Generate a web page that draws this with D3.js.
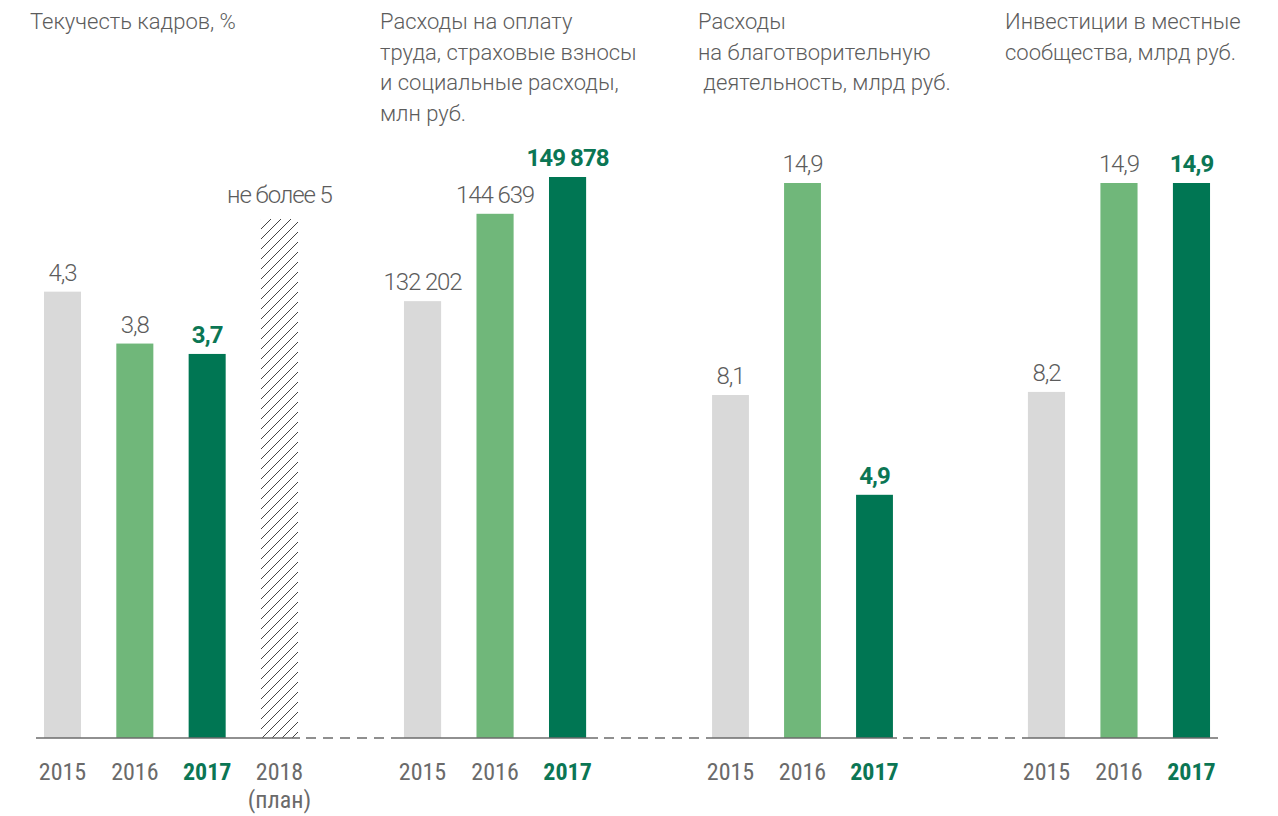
<!DOCTYPE html>
<html>
<head>
<meta charset="utf-8">
<script src="https://cdn.jsdelivr.net/npm/d3@7/dist/d3.min.js"></script>
<style>
  html, body { margin: 0; padding: 0; background: #fff; }
  svg { display: block; }
  .title { font-family: Roboto, "Open Sans", sans-serif; font-weight: 300; font-size: 22px; fill: #5c5c5c; white-space: pre; }
  .val { font-family: Roboto, sans-serif; font-weight: 300; font-size: 24px; fill: #5c5c5c; letter-spacing: -1.1px; }
  .val.hl { font-weight: 700; fill: #0b7654; letter-spacing: -0.9px; }
  .year { font-family: "Liberation Sans Narrow", "Roboto Condensed", "DejaVu Sans Condensed", sans-serif; font-size: 24px; fill: #6a6a6a; }
  .year.hl { font-weight: 700; fill: #0b7654; }
</style>
</head>
<body>
<svg id="chart" width="1278" height="816"></svg>
<script>
// ---------------- data ----------------
const years = ["2015", "2016", "2017"];
const turnoverYears = ["2015", "2016", "2017", "2018"];
const turnoverValues = [4.3, 3.8, 3.7, 5];
const turnoverPlanLabel = "не более 5";
const planNote = "(план)";
const laborCostValues = [132202, 144639, 149878];
const charityValues = [8.1, 14.9, 4.9];
const investmentValues = [8.2, 14.9, 14.9];
const highlightYear = "2017";
const planYear = "2018";

const titleTurnover = ["Текучесть кадров, %"];
const titleLabor = ["Расходы на оплату", "труда, страховые взносы", "и социальные расходы,", "млн руб."];
const titleCharity = ["Расходы", "на благотворительную", " деятельность, млрд руб."];
const titleInvest = ["Инвестиции в местные", "сообщества, млрд руб."];

// ---------------- formatting ----------------
const ru = d3.formatLocale({ decimal: ",", thousands: " ", grouping: [3], currency: ["", " руб."] });
const fmtDec = ru.format(".1f");
const fmtInt = ru.format(",d");

// ---------------- layout ----------------
const svg = d3.select("#chart");
const baseY = 738;
const colors = { "2015": "#d9d9d9", "2016": "#70b77a", "2017": "#007653" };

// hatch pattern for plan bar
const defs = svg.append("defs");
const pat = defs.append("pattern")
  .attr("id", "hatch").attr("patternUnits", "userSpaceOnUse")
  .attr("width", 10).attr("height", 10);
pat.append("path").attr("d", "M-1,11 L11,-1 M-2,2 L2,-2 M8,12 L12,8")
  .attr("stroke", "#444").attr("stroke-width", 1);

const panels = [
  { title: titleTurnover, titleX: 30, cats: turnoverYears, values: turnoverValues,
    range: [36, 300], pOuter: 0.069, align: 0.8, domain: [0, 5], top: 219, fmt: fmtDec },
  { title: titleLabor, titleX: 380, cats: years, values: laborCostValues,
    range: [397, 598], pOuter: 0.13, align: 0.37, domain: [70000, 149878], top: 177, fmt: fmtInt },
  { title: titleCharity, titleX: 698, cats: years, values: charityValues,
    range: [708, 897], pOuter: 0.0565, align: 0.5, domain: [-2.9, 14.9], top: 183, fmt: fmtDec },
  { title: titleInvest, titleX: 1005, cats: years, values: investmentValues,
    range: [1024, 1218], pOuter: 0.082, align: 0.33, domain: [-2.9, 14.9], top: 183, fmt: fmtDec }
];

panels.forEach((p, i) => {
  const g = svg.append("g");
  const x = d3.scaleBand().domain(p.cats).range(p.range)
    .paddingInner(0.488).paddingOuter(p.pOuter).align(p.align);
  const y = d3.scaleLinear().domain(p.domain).range([baseY, p.top]);

  // title
  g.append("text").attr("class", "title")
    .selectAll("tspan").data(p.title).join("tspan")
    .attr("x", p.titleX).attr("y", (d, k) => 29 + k * 30.5)
    .text(d => d);

  const rows = p.cats.map((c, k) => ({ cat: c, v: p.values[k] }));

  // bars
  g.selectAll("rect.bar").data(rows).join("rect")
    .attr("class", "bar")
    .attr("x", d => x(d.cat))
    .attr("width", x.bandwidth())
    .attr("y", d => y(d.v))
    .attr("height", d => baseY - y(d.v))
    .attr("fill", d => d.cat === planYear ? "url(#hatch)" : colors[d.cat]);

  // value labels
  g.selectAll("text.val").data(rows).join("text")
    .attr("class", d => "val" + (d.cat === highlightYear ? " hl" : ""))
    .attr("x", d => x(d.cat) + x.bandwidth() / 2)
    .attr("y", d => y(d.v) - (d.cat === planYear ? 16 : 11))
    .attr("text-anchor", "middle")
    .text(d => d.cat === planYear ? turnoverPlanLabel : p.fmt(d.v));

  // year labels
  g.selectAll("text.year").data(rows).join("text")
    .attr("class", d => "year" + (d.cat === highlightYear ? " hl" : ""))
    .attr("x", d => x(d.cat) + x.bandwidth() / 2)
    .attr("y", 780)
    .attr("text-anchor", "middle")
    .text(d => d.cat);

  g.selectAll("text.note").data(rows.filter(d => d.cat === planYear)).join("text")
    .attr("class", "year note")
    .attr("x", d => x(d.cat) + x.bandwidth() / 2)
    .attr("y", 808)
    .attr("text-anchor", "middle")
    .text(planNote);

  // solid baseline under the panel
  svg.append("line")
    .attr("x1", p.range[0]).attr("x2", p.range[1])
    .attr("y1", baseY).attr("y2", baseY)
    .attr("stroke", "#6b6b6b").attr("stroke-width", 1.6);

  // dashed connector to next panel
  if (i < panels.length - 1) {
    svg.append("line")
      .attr("x1", p.range[1] + 6).attr("x2", panels[i + 1].range[0])
      .attr("y1", baseY).attr("y2", baseY)
      .attr("stroke", "#6b6b6b").attr("stroke-width", 1.3)
      .attr("stroke-dasharray", "10,7");
  }
});
</script>
</body>
</html>
